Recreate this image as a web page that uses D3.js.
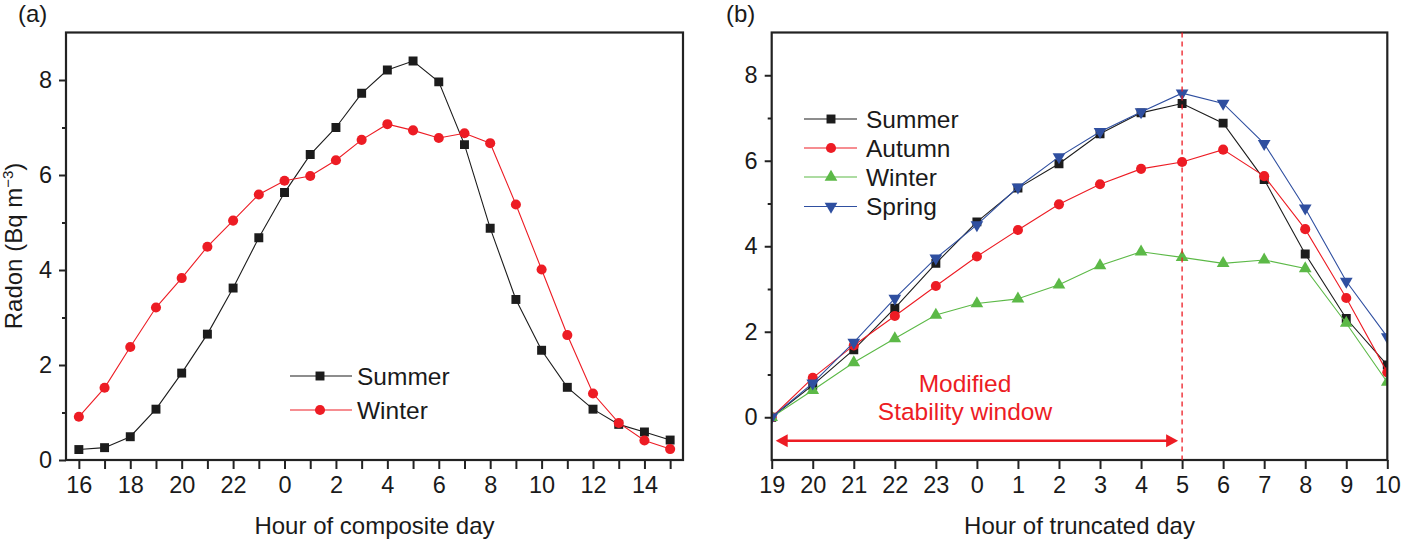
<!DOCTYPE html>
<html>
<head>
<meta charset="utf-8">
<script src="https://cdn.jsdelivr.net/npm/d3@7"></script>
<style>
  body { margin: 0; background: #fff; }
  svg { display: block; font-family: "Liberation Sans", Arial, sans-serif; }
  .tick text { font-size: 23.5px; fill: #1a1a1a; }
</style>
</head>
<body>
<div id="chart"></div>
<script>
const hoursA = ['16','17','18','19','20','21','22','23','0','1','2','3','4','5','6','7','8','9','10','11','12','13','14','15'];
const summerA = [0.22, 0.26, 0.49, 1.07, 1.83, 2.65, 3.62, 4.68, 5.63, 6.43, 7.0, 7.72, 8.21, 8.4, 7.96, 6.64, 4.88, 3.38, 2.31, 1.53, 1.07, 0.75, 0.59, 0.42];
const winterA = [0.91, 1.52, 2.38, 3.21, 3.83, 4.49, 5.04, 5.59, 5.88, 5.98, 6.31, 6.74, 7.07, 6.94, 6.78, 6.88, 6.67, 5.38, 4.01, 2.63, 1.4, 0.78, 0.41, 0.23];

const hoursB = ['19','20','21','22','23','0','1','2','3','4','5','6','7','8','9','10'];
const summerB = [0, 0.75, 1.58, 2.55, 3.6, 4.57, 5.36, 5.93, 6.63, 7.12, 7.34, 6.88, 5.56, 3.82, 2.31, 1.22];
const autumnB = [0, 0.92, 1.68, 2.37, 3.07, 3.76, 4.38, 4.98, 5.45, 5.81, 5.97, 6.26, 5.64, 4.4, 2.79, 1.05];
const winterB = [0, 0.63, 1.28, 1.84, 2.39, 2.66, 2.77, 3.1, 3.55, 3.87, 3.74, 3.6, 3.68, 3.48, 2.2, 0.82];
const springB = [0, 0.8, 1.75, 2.78, 3.72, 4.5, 5.38, 6.09, 6.68, 7.14, 7.58, 7.34, 6.4, 4.89, 3.18, 1.88];

const yMajor = [0, 2, 4, 6, 8];
const yMinor = [1, 3, 5, 7];

const black = '#1c1c1c';
const red = '#ed1c24';
const green = '#5cb947';
const blue = '#2f4fa0';

const width = 1403;
const height = 541;

const svg = d3.select('#chart').append('svg').attr('width', width).attr('height', height);

function symbolFor(shape) {
    if (shape === 'square') return d3.symbol(d3.symbolSquare, 80);
    if (shape === 'circle') return d3.symbol(d3.symbolCircle, 80);
    if (shape === 'up') return d3.symbol(d3.symbolTriangle, 70);
    return d3.symbol(d3.symbolTriangle, 70);
}

function drawPanel(opts) {
    const { left, right, top, bottom, hours, xPadding, yDomain, labelEvery, series, id } = opts;
    const x = d3.scalePoint().domain(hours).range([left, right]).padding(xPadding);
    const y = d3.scaleLinear().domain(yDomain).range([bottom, top]);

    svg.append('defs').append('clipPath').attr('id', id)
        .append('rect').attr('x', left).attr('y', top).attr('width', right - left).attr('height', bottom - top);

    const xAxis = d3.axisBottom(x).tickSize(9).tickPadding(7)
        .tickFormat((d, i) => (i % labelEvery === 0 ? d : ''));
    const gx = svg.append('g').attr('transform', `translate(0, ${bottom})`).call(xAxis);
    gx.select('.domain').remove();
    gx.selectAll('line').attr('stroke', '#222').attr('stroke-width', 2);

    const gy = svg.append('g').attr('transform', `translate(${left}, 0)`)
        .call(d3.axisLeft(y).tickValues(yMajor).tickSize(7).tickPadding(7));
    gy.select('.domain').remove();
    gy.selectAll('line').attr('stroke', '#222').attr('stroke-width', 2);

    const gyMinor = svg.append('g').attr('transform', `translate(${left}, 0)`)
        .call(d3.axisLeft(y).tickValues(yMinor).tickSize(4).tickFormat(''));
    gyMinor.select('.domain').remove();
    gyMinor.selectAll('line').attr('stroke', '#222').attr('stroke-width', 2);

    const plot = svg.append('g').attr('clip-path', `url(#${id})`);
    series.forEach((s) => {
        const pts = hours.map((h, i) => [x(h), y(s.values[i])]);
        plot.append('path').attr('d', d3.line()(pts))
            .attr('fill', 'none').attr('stroke', s.color).attr('stroke-width', 1.1);
        plot.selectAll(null).data(pts).join('path')
            .attr('d', symbolFor(s.shape))
            .attr('transform', (p) => `translate(${p[0]},${p[1]})` + (s.shape === 'down' ? ' rotate(180)' : ''))
            .attr('fill', s.color);
    });

    svg.append('rect').attr('x', left).attr('y', top).attr('width', right - left).attr('height', bottom - top)
        .attr('fill', 'none').attr('stroke', '#222').attr('stroke-width', 2.2);

    return { x, y };
}

function drawLegend(items, x0, x1, xm, xt, rows) {
    items.forEach((s, i) => {
        const yy = rows[i];
        svg.append('line').attr('x1', x0).attr('x2', x1).attr('y1', yy).attr('y2', yy)
            .attr('stroke', s.color).attr('stroke-width', 1.1);
        svg.append('path').attr('d', symbolFor(s.shape))
            .attr('transform', `translate(${xm},${yy})` + (s.shape === 'down' ? ' rotate(180)' : ''))
            .attr('fill', s.color);
        svg.append('text').attr('x', xt).attr('y', yy).attr('dy', '0.36em')
            .attr('font-size', 24.5).attr('fill', '#1a1a1a').text(s.name);
    });
}

const seriesA = [
    { name: 'Summer', values: summerA, color: black, shape: 'square' },
    { name: 'Winter', values: winterA, color: red, shape: 'circle' },
];
const seriesB = [
    { name: 'Summer', values: summerB, color: black, shape: 'square' },
    { name: 'Autumn', values: autumnB, color: red, shape: 'circle' },
    { name: 'Winter', values: winterB, color: green, shape: 'up' },
    { name: 'Spring', values: springB, color: blue, shape: 'down' },
];

const a = drawPanel({ id: 'clipA', left: 66, right: 683, top: 32.5, bottom: 460, hours: hoursA, xPadding: 0.5,
    yDomain: [0, 9], labelEvery: 2, series: seriesA });
const b = drawPanel({ id: 'clipB', left: 771.7, right: 1387.3, top: 32.5, bottom: 460, hours: hoursB, xPadding: 0,
    yDomain: [-1, 9], labelEvery: 1, series: seriesB });

drawLegend(seriesA, 290, 352, 320, 357, [376, 410]);
drawLegend(seriesB, 804, 857, 831, 866, [119, 148, 177, 206.5]);

// panel letters and axis titles
svg.append('text').attr('x', 18).attr('y', 22).attr('font-size', 24).attr('fill', '#1a1a1a').text('(a)');
svg.append('text').attr('x', 726).attr('y', 22).attr('font-size', 24).attr('fill', '#1a1a1a').text('(b)');

svg.append('text').attr('x', 374.5).attr('y', 534).attr('text-anchor', 'middle')
    .attr('font-size', 24).attr('fill', '#1a1a1a').text('Hour of composite day');
svg.append('text').attr('x', 1079.5).attr('y', 534).attr('text-anchor', 'middle')
    .attr('font-size', 24).attr('fill', '#1a1a1a').text('Hour of truncated day');

const yt = svg.append('text').attr('transform', 'translate(22, 246) rotate(-90)').attr('text-anchor', 'middle')
    .attr('font-size', 24).attr('fill', '#1a1a1a');
yt.append('tspan').text('Radon (Bq m');
yt.append('tspan').attr('font-size', 15).attr('dy', -9).text('\u22123');
yt.append('tspan').attr('dy', 9).text(')');

// stability window annotation
const cut = '5';
svg.append('line').attr('x1', b.x(cut)).attr('x2', b.x(cut)).attr('y1', b.y(9)).attr('y2', b.y(-1))
    .attr('stroke', red).attr('stroke-width', 1.3).attr('stroke-dasharray', '5,4');

const arrowY = b.y(-0.55);
const arrowL = b.x('19') + 4;
const arrowR = b.x(cut) - 4;
svg.append('line').attr('x1', arrowL + 10).attr('x2', arrowR - 10).attr('y1', arrowY).attr('y2', arrowY)
    .attr('stroke', red).attr('stroke-width', 2.5);
svg.append('path').attr('d', `M${arrowL},${arrowY} l12,-6.5 l0,13 Z`).attr('fill', red);
svg.append('path').attr('d', `M${arrowR},${arrowY} l-12,-6.5 l0,13 Z`).attr('fill', red);

svg.append('text').attr('x', 965).attr('y', b.y(0.6)).attr('text-anchor', 'middle')
    .attr('font-size', 24.5).attr('fill', red).text('Modified');
svg.append('text').attr('x', 965).attr('y', b.y(-0.07)).attr('text-anchor', 'middle')
    .attr('font-size', 24.5).attr('fill', red).text('Stability window');
</script>
</body>
</html>
